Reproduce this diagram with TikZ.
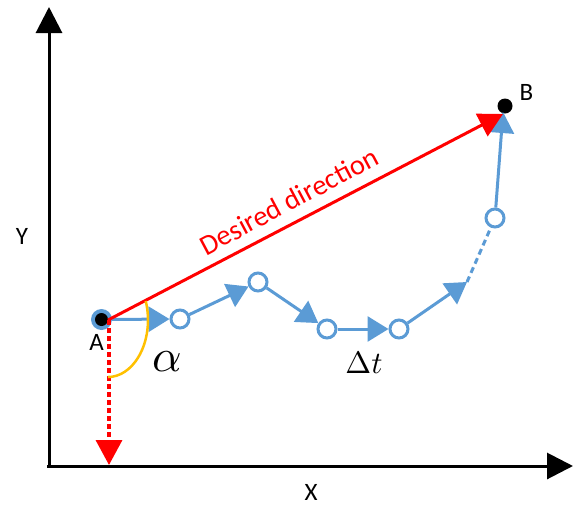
\documentclass[tikz,border=0pt]{standalone}
\usepackage{fontspec}
\setmainfont{Carlito}
\usetikzlibrary{arrows.meta}
\definecolor{obl}{HTML}{5B9BD5}
\definecolor{ora}{HTML}{FFC000}
\begin{document}
\begin{tikzpicture}[x=1pt,y=-1pt,
  axisline/.style={line width=3pt,-{Triangle[length=26pt,width=26pt]}},
  bluearr/.style={obl,line width=3pt,-{Triangle[length=21pt,width=25pt]}},
  ring/.style={circle,draw=obl,line width=3pt,fill=white,minimum size=18pt,inner sep=0pt},
  lbl/.style={font=\fontsize{25}{29}\selectfont,inner sep=0pt}]
\useasboundingbox (0,0) rectangle (576,504);
% axes
\coordinate (o) at (49,466);
\coordinate (ytop) at (49,7);
\coordinate (xend) at (573,466);
\coordinate (xo) at (47,466);
\draw[axisline] (o) -- (ytop);
\draw[axisline] (xo) -- (xend);
\node[lbl] (ylab) at (22,236) {Y};
\node[lbl] (xlab) at (311,492) {X};
% points
\node[circle,fill=obl,minimum size=21pt,inner sep=0pt] (a) at (101.5,319.5) {};
\node[circle,fill=black,minimum size=13pt,inner sep=0pt] (adot) at (101.5,319.5) {};
\node[lbl] (alab) at (96.5,342) {A};
\node[circle,fill=black,minimum size=15pt,inner sep=0pt] (b) at (505,106) {};
\node[lbl] (blab) at (526.5,92.5) {B};
\node[ring] (c1) at (180,319) {};
\node[ring] (c2) at (258,282) {};
\node[ring] (c3) at (327,329) {};
\node[ring] (c4) at (399,329) {};
\node[ring] (c5) at (495,218) {};
\coordinate (p) at (467,282);
\coordinate (tb) at (503,112);
% blue path
\draw[bluearr] (a) -- (c1);
\draw[bluearr] (c1) -- (c2);
\draw[bluearr] (c2) -- (c3);
\draw[bluearr] (c3) -- (c4);
\draw[bluearr] (c4) -- (p);
\draw[obl,line width=3pt,dash pattern=on 6pt off 4pt] (p) -- (c5);
\draw[bluearr] (c5) -- (tb);
% red
\coordinate (r0) at (108,320);
\coordinate (r1) at (503,114);
\coordinate (rd) at (109,320);
\coordinate (rdend) at (109,465);
\draw[red,line width=3pt,-{Triangle[length=24pt,width=25pt]}] (r0) -- (r1);
\draw[red,line width=3.5pt,dash pattern=on 5pt off 3pt,-{Triangle[length=25pt,width=26pt]}] (rd) -- (rdend);
\node[red,font=\fontsize{28.5}{32}\selectfont,rotate=28,inner sep=0pt] (dd) at (289,201) {Desired direction};
% angle arc
\coordinate (arcstart) at (145.7,301);
\draw[ora,line width=2.5pt] (arcstart) arc[start angle=19.5,end angle=-90,x radius=40pt,y radius=57pt];
\node[scale=4.6,inner sep=0pt] (alpha) at (167,362) {$\alpha$};
\node[scale=3.1,inner sep=0pt] (dt) at (364,363) {$\Delta t$};
\end{tikzpicture}
\end{document}
